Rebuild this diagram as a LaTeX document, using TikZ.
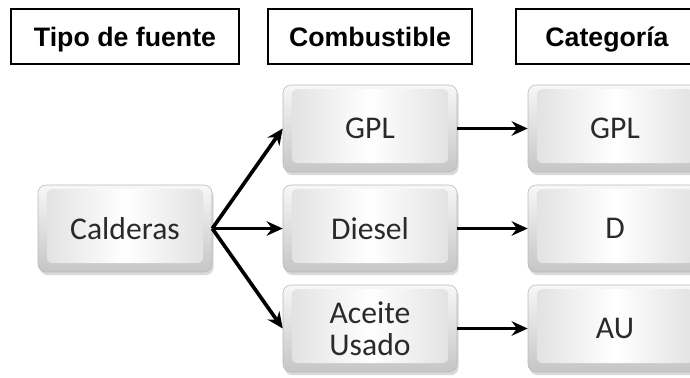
\documentclass[tikz,border=0pt]{standalone}
\usepackage{fontspec}
\setmainfont{Carlito}
\newfontfamily\headfont{Liberation Sans}
\usepackage{xcolor}
\usepackage{tikz}
\usetikzlibrary{arrows.meta, shadows}

\definecolor{keytext}{HTML}{2A2A2A}

\begin{document}
\begin{tikzpicture}[
  >={Stealth[length=0.4cm, width=0.36cm]},
  head/.style={draw, line width=1pt, minimum height=1.375cm, inner sep=0pt,
    text height=13.6pt, text depth=0pt,
    font=\headfont\bfseries\fontsize{19}{22}\selectfont},
  keybox/.style={rounded corners=0.2cm, minimum width=4.35cm, minimum height=2.175cm,
    inner sep=0pt, align=center, draw=gray!55, top color=gray!6, bottom color=gray!45,
    text=keytext, font=\fontsize{22.5}{27}\selectfont,
    drop shadow={opacity=0.3, shadow xshift=0.04cm, shadow yshift=-0.08cm},
    path picture={
      \shade[rounded corners=0.15cm, left color=gray!25, right color=gray!25, middle color=white]
        ([xshift=0.22cm, yshift=0.22cm]path picture bounding box.south west) rectangle
        ([xshift=-0.22cm, yshift=-0.1cm]path picture bounding box.north east);}},
  link/.style={line width=2.6pt}
]
\useasboundingbox (0,0) rectangle (17.25,-9.425);

% column heads
\node[head, minimum width=5.7cm] (tipo) at (3.125,-0.9125) {Tipo de fuente};
\node[head, minimum width=5.1cm] (comb) at (9.25,-0.9125) {Combustible};
\node[head, minimum width=4.55cm] (cat) at (15.175,-0.9125) {Categoría};

% source
\node[keybox] (cald) at (3.125,-5.7125) {Calderas};

% fuels
\node[keybox] (gpl) at (9.25,-3.2125) {GPL};
\node[keybox] (diesel) at (9.25,-5.7125) {Diesel};
\node[keybox] (aceite) at (9.25,-8.2125) {Aceite\\[-4pt]Usado};

% categories
\node[keybox] (catgpl) at (15.375,-3.2125) {GPL};
\node[keybox] (catd) at (15.375,-5.7125) {D};
\node[keybox] (catau) at (15.375,-8.2125) {AU};

\draw[link, ->] (cald.east) -- (gpl.west);
\draw[link, ->] (cald.east) -- (diesel.west);
\draw[link, ->] (cald.east) -- (aceite.west);
\draw[link, ->] (gpl) -- (catgpl);
\draw[link, ->] (diesel) -- (catd);
\draw[link, ->] (aceite) -- (catau);
\end{tikzpicture}
\end{document}
